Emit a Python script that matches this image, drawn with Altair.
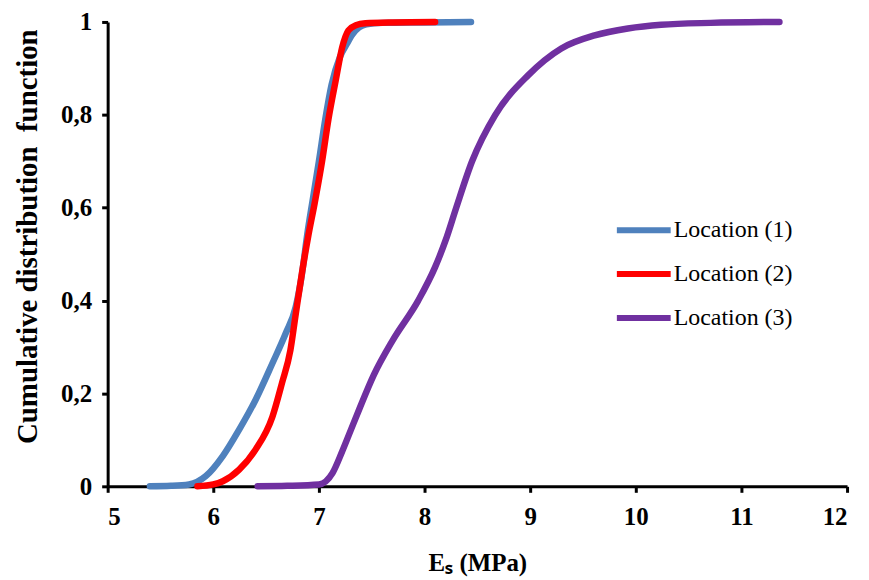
import altair as alt
import pandas as pd

series = ["Location (1)", "Location (2)", "Location (3)"]
colors = ["#4F81BD", "#FF0000", "#7030A0"]

loc1_x = [5.40, 5.60, 5.77, 5.93, 6.09, 6.245, 6.40, 6.56, 6.685, 6.78, 6.84, 6.89, 6.94,
          7.00, 7.06, 7.12, 7.20, 7.27, 7.31, 7.38, 7.45, 7.60, 8.00, 8.44]
loc1_y = [0.0, 0.001, 0.004, 0.022, 0.065, 0.122, 0.186, 0.265, 0.329, 0.386, 0.458, 0.543, 0.615,
          0.70, 0.79, 0.865, 0.925, 0.955, 0.971, 0.988, 0.995, 0.998, 0.999, 1.0]

loc2_x = [5.85, 6.00, 6.09, 6.245, 6.40, 6.56, 6.65, 6.73, 6.78, 6.84, 6.90, 6.96,
          7.03, 7.09, 7.16, 7.22, 7.28, 7.35, 7.44, 7.70, 8.10]
loc2_y = [0.0, 0.004, 0.011, 0.036, 0.079, 0.15, 0.222, 0.293, 0.37, 0.46, 0.54, 0.61,
          0.70, 0.79, 0.875, 0.945, 0.982, 0.993, 0.997, 0.999, 1.0]

loc3_x = [6.42, 6.70, 7.00, 7.13, 7.22, 7.30, 7.38, 7.52, 7.70, 7.94, 8.10, 8.20, 8.30,
          8.45, 8.67, 8.98, 9.295, 9.61, 9.925, 10.24, 10.71, 11.36]
loc3_y = [0.0, 0.001, 0.004, 0.029, 0.075, 0.12, 0.165, 0.24, 0.315, 0.40, 0.472, 0.53, 0.60,
          0.70, 0.80, 0.885, 0.943, 0.971, 0.986, 0.994, 0.998, 1.0]

x_ticks = [5, 6, 7, 8, 9, 10, 11, 12]
y_ticks = [0, 0.2, 0.4, 0.6, 0.8, 1.0]

rows = []
for name, xs, ys in zip(series, [loc1_x, loc2_x, loc3_x], [loc1_y, loc2_y, loc3_y]):
    for i, (xv, yv) in enumerate(zip(xs, ys)):
        rows.append({"series": name, "Es": xv, "F": yv, "i": i})
df = pd.DataFrame(rows)

FONT = "Liberation Serif"

chart = alt.Chart(df).mark_line(
    strokeWidth=6.5, strokeCap="round", strokeJoin="round", interpolate="monotone"
).encode(
    x=alt.X("Es:Q",
            scale=alt.Scale(domain=[5, 12], nice=False, zero=False),
            axis=alt.Axis(values=x_ticks, title="Eₛ (MPa)", labelPadding=12,
                          titleFontSize=25,
                          titleX=371, titleY=76, titleBaseline="middle", titleAlign="center")),
    y=alt.Y("F:Q",
            scale=alt.Scale(domain=[0, 1], nice=False),
            axis=alt.Axis(values=y_ticks,
                          labelExpr="replace(format(datum.value, '.1~f'), '.', ',')",
                          title="Cumulative distribution\u00a0 function", labelPadding=10,
                          titleFontSize=29,
                          titleX=-80, titleY=215, titleBaseline="middle", titleAlign="center",
                          titleAngle=270)),
    color=alt.Color("series:N",
                    scale=alt.Scale(domain=series, range=colors),
                    legend=alt.Legend(title=None, orient="none", legendX=508, legendY=179,
                                      symbolType="stroke", symbolSize=2916, symbolStrokeWidth=6,
                                      labelFont=FONT, labelFontSize=24, labelColor="black",
                                      rowPadding=2, padding=0, labelOffset=0)),
    order="i:Q",
).properties(
    width=742, height=466,
    autosize=alt.AutoSizeParams(type="none"),
    padding={"left": 100, "top": 13, "right": 14, "bottom": 92},
).configure(
    font=FONT
).configure_view(
    stroke=None
).configure_axis(
    grid=False, domainColor="black", domainWidth=3, tickColor="black", tickWidth=3, tickSize=6,
    labelFont=FONT, labelFontWeight="bold", labelFontSize=25, labelColor="black",
    titleFont=FONT, titleFontWeight="bold", titleFontSize=24, titleColor="black",
).configure_legend(
    labelFont=FONT, labelFontSize=24, labelColor="black"
)

chart.save("out.html", embed_options={"renderer": "svg", "actions": False})
